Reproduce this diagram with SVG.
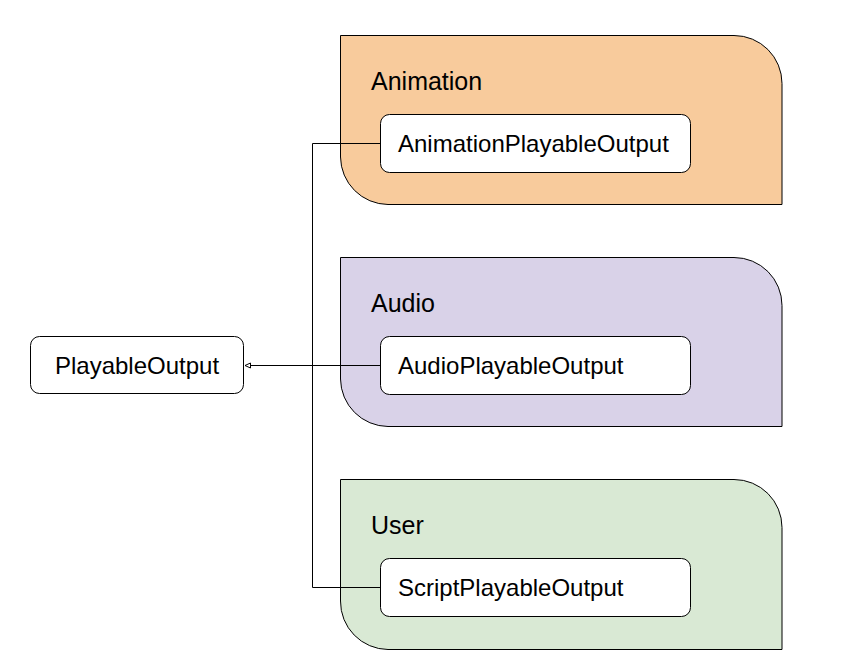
<svg xmlns="http://www.w3.org/2000/svg" width="848" height="667" viewBox="0 0 848 667">
<style>
.grp{stroke:#000;stroke-width:1}
.box{fill:#fff;stroke:#000;stroke-width:1}
.glabel{font-family:"Liberation Sans",Arial,sans-serif;font-size:25px;fill:#000}
.label{font-family:"Liberation Sans",Arial,sans-serif;font-size:24px;fill:#000}
.conn{fill:none;stroke:#000;stroke-width:1}
</style>
<defs>
<marker id="arr" markerWidth="8" markerHeight="8" refX="6" refY="3" orient="auto" markerUnits="userSpaceOnUse">
<path d="M0.5,0.5 L6,3 L0.5,5.5 Z" fill="#fff" stroke="#000" stroke-width="1"/>
</marker>
</defs>
<rect width="848" height="667" fill="#fff"/>
<g id="group-animation">
<path class="grp" fill="#f8cb9c" d="M340.5,35.5 H734 A48,48 0 0 1 782,83.5 V204.5 H388 A48,48 0 0 1 340.5,157 Z"/>
<text class="glabel" x="371" y="90">Animation</text>
</g>
<g id="group-audio">
<path class="grp" fill="#d9d2e8" d="M340.5,257.5 H734 A48,48 0 0 1 782,305.5 V426.5 H388 A48,48 0 0 1 340.5,379 Z"/>
<text class="glabel" x="371" y="312">Audio</text>
</g>
<g id="group-user">
<path class="grp" fill="#d9e9d4" d="M340.5,479.5 H734 A48,48 0 0 1 782,527.5 V649.5 H388 A48,48 0 0 1 340.5,601 Z"/>
<text class="glabel" x="371" y="534">User</text>
</g>
<g id="connectors">
<path class="conn" d="M380.5,143.5 H312.5 V587.5 H380.5"/>
<path class="conn" d="M380.5,365.5 H245" marker-end="url(#arr)"/>
</g>
<g id="node-animation-output">
<rect class="box" x="380.5" y="114.5" width="310" height="58" rx="9"/>
<text class="label" x="398" y="152">AnimationPlayableOutput</text>
</g>
<g id="node-audio-output">
<rect class="box" x="380.5" y="336.5" width="310" height="58" rx="9"/>
<text class="label" x="398" y="374">AudioPlayableOutput</text>
</g>
<g id="node-script-output">
<rect class="box" x="380.5" y="558.5" width="310" height="58" rx="9"/>
<text class="label" x="398" y="596">ScriptPlayableOutput</text>
</g>
<g id="node-playable-output">
<rect class="box" x="30.5" y="336.5" width="213" height="57" rx="9"/>
<text class="label" x="137" y="374" text-anchor="middle">PlayableOutput</text>
</g>
</svg>
